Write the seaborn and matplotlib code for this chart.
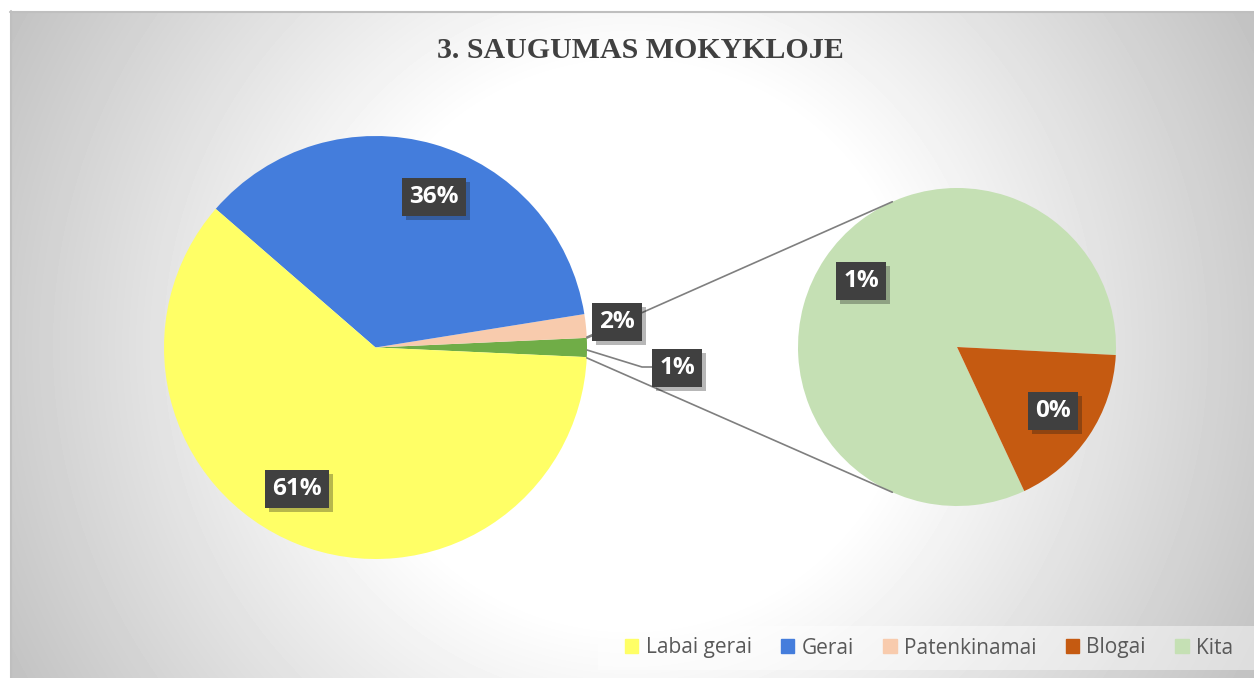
import numpy as np
import matplotlib.pyplot as plt
import matplotlib.patheffects as pe
from matplotlib.patches import Patch, Rectangle
import seaborn as sns

# duomenys (procentai)
categories = ["Labai gerai", "Gerai", "Patenkinamai", "Blogai", "Kita"]
shares = [60.65, 36.1, 1.8, 0.25, 1.2]
label_text = ["61%", "36%", "2%", "0%", "1%"]
other_text = "1%"
colors = ["#FFFF66", "#447DDC", "#F8CBAD", "#C55A11", "#C5E0B4"]
other_color = "#70AD47"
title = "3. SAUGUMAS MOKYKLOJE"

sns.set_style("white")
plt.rcParams["font.family"] = ["Open Sans", "DejaVu Sans"]

W, H = 1254, 678
fig = plt.figure(figsize=(W / 100, H / 100), dpi=100)
fig.patch.set_facecolor("white")

# fonas - radialinis gradientas
bg = fig.add_axes([10 / W, 0, 1 - 10 / W, 1 - 11 / H])
yy, xx = np.mgrid[11:H, 10:W]
d = np.hypot(xx - 630, yy - 345)
v = np.clip(255 - 0.144 * (d - 280), 190, 255) / 255
bg.imshow(v, cmap="gray", vmin=0, vmax=1, aspect="auto", interpolation="bilinear")
bg.axis("off")

ax = fig.add_axes([0, 0, 1, 1])
ax.patch.set_visible(False)

def Y(y):
    return H - y

# pagrindinis pyragas
other = shares[3] + shares[4]
main_vals = [other, shares[2], shares[1], shares[0]]
main_cols = [other_color, colors[2], colors[1], colors[0]]
c1, r1 = (375.5, Y(347.5)), 211.5
start1 = -other * 3.6 / 2
ax.pie(main_vals, colors=main_cols, startangle=start1, counterclock=True,
       center=c1, radius=r1, frame=True, wedgeprops=dict(linewidth=0))

# antrinis pyragas
sub_vals = [shares[4], shares[3]]
sub_cols = [colors[4], colors[3]]
c2, r2 = (957, Y(347)), 159
ax.pie(sub_vals, colors=sub_cols, startangle=-2.9, counterclock=True,
       center=c2, radius=r2, frame=True, wedgeprops=dict(linewidth=0))

# jungiamosios linijos
a = np.deg2rad(other * 3.6 / 2 + 0.2)
b = np.deg2rad(114)
for s in (1, -1):
    ax.plot([c1[0] + r1 * np.cos(a), c2[0] + r2 * np.cos(b)],
            [c1[1] + s * r1 * np.sin(a), c2[1] + s * r2 * np.sin(b)],
            color="#7F7F7F", lw=1.2, zorder=3)

# lydimoji linija "1%"
ax.plot([587, 642, 653], [Y(350), Y(367), Y(367)], color="#7F7F7F", lw=1.2, zorder=3)
ax.plot([587, 594], [Y(338), Y(335)], color="#7F7F7F", lw=1.2, zorder=3)

def box_label(x, y, s):
    t = ax.text(x, Y(y), s, ha="center", va="center", color="white",
                fontsize=17.5, fontweight="bold", zorder=5,
                bbox=dict(boxstyle="square,pad=0.3", fc="#404040", ec="none"))
    t.get_bbox_patch().set_path_effects(
        [pe.SimplePatchShadow(offset=(3, -3), alpha=0.3), pe.Normal()])

box_label(297, 489, label_text[0])
box_label(434, 197, label_text[1])
box_label(617, 322, label_text[2])
box_label(677, 368, other_text)
box_label(1053, 411, label_text[3])
box_label(861, 281, label_text[4])

# rėmelio kraštai
ax.plot([10, W], [Y(11.5), Y(11.5)], color="#BFBFBF", lw=1.5)
ax.plot([10.5, 10.5], [0, Y(11)], color="#BFBFBF", lw=1.5)

ax.text(640, Y(50), title, ha="center", va="center", fontsize=21.5,
        fontweight="bold", family="Liberation Serif", color="#404040")

# legendos fonas
ax.add_patch(Rectangle((598, Y(670)), W - 598, 44, facecolor="white",
                       alpha=0.45, edgecolor="none", zorder=1))
handles = [Patch(color=c) for c in colors]
leg = ax.legend(handles, categories, ncol=5, loc="center",
                bbox_to_anchor=(929 / W, Y(648) / H), bbox_transform=fig.transFigure,
                fontsize=15, frameon=False, handlelength=0.65,
                handleheight=0.65, handletextpad=0.35, columnspacing=1.4,
                borderpad=0.45, borderaxespad=0)
for t in leg.get_texts():
    t.set_color("#595959")

ax.set_xlim(0, W)
ax.set_ylim(0, H)
ax.set_aspect("auto")
ax.axis("off")

fig.savefig("out.png", dpi=100)
